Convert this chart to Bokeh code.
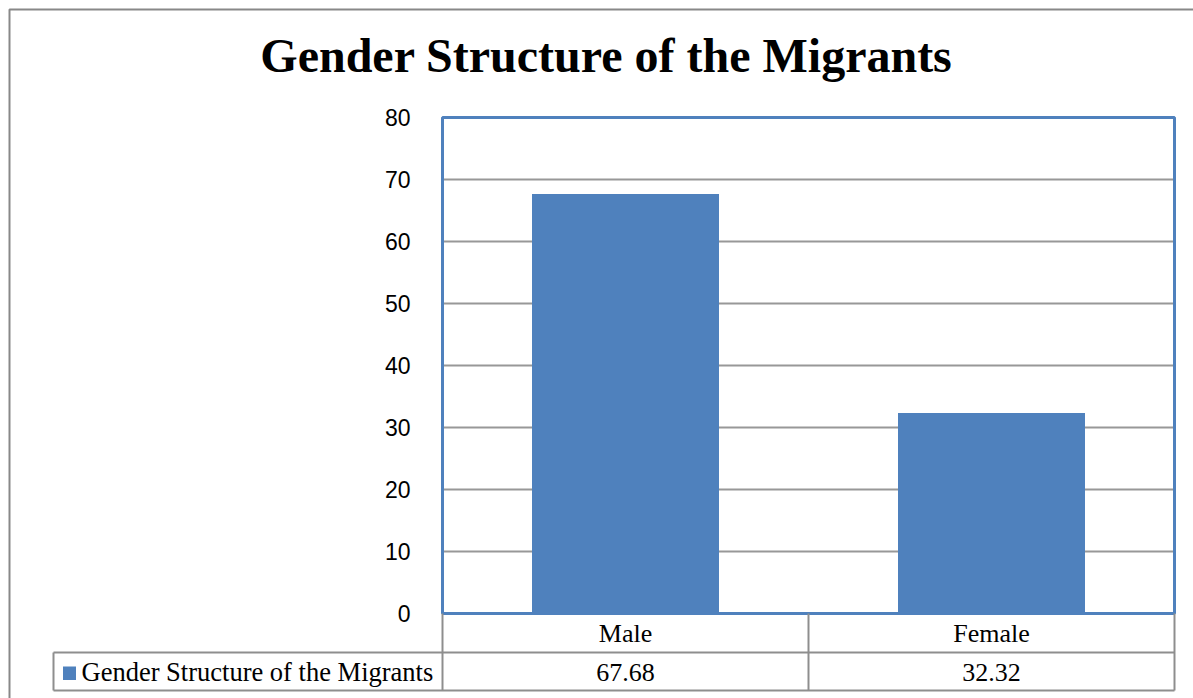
from bokeh.plotting import figure
from bokeh.models import Range1d, LinearAxis, FixedTicker
from bokeh.core.properties import value
from bokeh.embed import file_html
from bokeh.resources import INLINE

# ---------------- data ----------------
title_text = "Gender Structure of the Migrants"
series_name = "Gender Structure of the Migrants"
categories = ["Male", "Female"]
values = [67.68, 32.32]
value_labels = ["67.68", "32.32"]
y_ticks = [0, 10, 20, 30, 40, 50, 60, 70, 80]

# ---------------- layout (page pixels) ----------------
W, H = 1193, 698
ORIGIN = 0
PX0, PX1 = 442, 1174      # plot area left / right
PY0, PYTOP = 613, 117     # y = 0 and y = top tick
n = len(categories)
kx = (PX1 - PX0) / n
ky = (PY0 - PYTOP) / y_ticks[-1]


def X(px):
    return (px - PX0) / kx


def Y(py):
    return (PY0 - py) / ky


BAR = "#4f81bd"
GRID = "#989898"
TABLE = "#8e8e8e"
SERIF = value("Liberation Serif")

p = figure(width=W, height=H, output_backend="svg", toolbar_location=None,
           x_range=Range1d(X(ORIGIN), X(ORIGIN + W)),
           y_range=Range1d(Y(ORIGIN + H), Y(ORIGIN)),
           x_axis_location=None, y_axis_location=None,
           min_border=0, tools="", title=None)
p.outline_line_color = None
p.background_fill_color = "white"
p.border_fill_color = "white"
for g in p.grid:
    g.visible = False

# y axis fixed at the left edge of the plot area
yaxis = LinearAxis(fixed_location=0, ticker=FixedTicker(ticks=y_ticks))
yaxis.axis_line_color = None
yaxis.major_tick_line_color = None
yaxis.minor_tick_line_color = None
yaxis.major_label_text_font = "Liberation Sans"
yaxis.major_label_text_font_size = "23px"
yaxis.major_label_text_color = "black"
yaxis.major_label_standoff = 26
p.add_layout(yaxis, "left")

# outer chart border
p.quad(left=X(9), right=X(1400), top=Y(9), bottom=Y(900),
       fill_color=None, line_color="#888888", line_width=2)

# horizontal gridlines
p.segment(x0=0, x1=n, y0=y_ticks[1:-1], y1=y_ticks[1:-1],
          line_color=GRID, line_width=2)

# bars
xs = [i + 0.5 for i in range(n)]
p.vbar(x=xs, top=values, bottom=0, width=187 / kx,
       fill_color=BAR, line_color=None)

# plot-area border
p.quad(left=0, right=n, bottom=0, top=y_ticks[-1],
       fill_color=None, line_color=BAR, line_width=3)

# data table lines
row1 = Y(652)
row2 = Y(690)
leg_left = X(53)
p.segment(x0=[leg_left, leg_left], x1=[n, n], y0=[row1, row2], y1=[row1, row2],
          line_color=TABLE, line_width=2)
p.segment(x0=list(range(n + 1)), x1=list(range(n + 1)),
          y0=[0] * (n + 1), y1=[row2] * (n + 1),
          line_color=TABLE, line_width=2)
p.segment(x0=[leg_left], x1=[leg_left], y0=[row1], y1=[row2],
          line_color=TABLE, line_width=2)

# table texts
p.text(x=xs, y=[Y(633)] * n, text=categories, text_font=SERIF,
       text_font_size="26px", text_color="black",
       text_align="center", text_baseline="middle")
p.text(x=xs, y=[Y(671.5)] * n, text=value_labels, text_font=SERIF,
       text_font_size="26px", text_color="black",
       text_align="center", text_baseline="middle")

# legend key in table
p.quad(left=X(62.5), right=X(75.5), top=Y(666), bottom=Y(679.5),
       fill_color=BAR, line_color=None)
p.text(x=[X(81)], y=[Y(671.5)], text=[series_name], text_font=SERIF,
       text_font_size="26.5px", text_color="black",
       text_align="left", text_baseline="middle")

# title
p.text(x=[X(606)], y=[Y(55)], text=[title_text], text_font=SERIF,
       text_font_size="48px", text_font_style="bold", text_color="black",
       text_align="center", text_baseline="middle")

open("out.html", "w").write(file_html(p, INLINE))
